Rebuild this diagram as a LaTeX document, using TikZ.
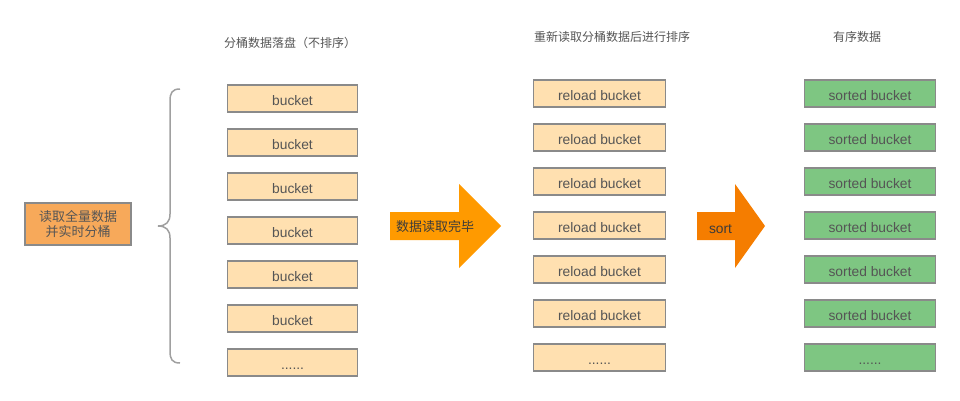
\documentclass[tikz,border=0pt]{standalone}
\usepackage{fontspec}
\setmainfont{Liberation Sans}
\newfontfamily\cjk{Noto Sans CJK SC}
\definecolor{bfill}{HTML}{FFE0B0}
\definecolor{gfill}{HTML}{7EC682}
\definecolor{ofill}{HTML}{F7A95A}
\definecolor{bord}{HTML}{8A8A8A}
\definecolor{txt}{HTML}{555555}
\definecolor{arr1}{HTML}{FF9A00}
\definecolor{arr2}{HTML}{F57D00}
\definecolor{brace}{HTML}{A0A0A0}
\begin{document}
\begin{tikzpicture}[x=1pt,y=-1pt,
  box/.style={draw=bord,line width=1.3pt,rectangle,minimum height=27pt,inner sep=0pt,text height=14pt,text depth=0pt,text=txt,font=\fontsize{13.8}{16}\selectfont},
  bkt/.style={box,fill=bfill,minimum width=130pt},
  rbkt/.style={box,fill=bfill,minimum width=132pt},
  sbkt/.style={box,fill=gfill,minimum width=131pt},
  ttl/.style={text=txt,font=\cjk\fontsize{12}{14}\selectfont,inner sep=0pt}]
\useasboundingbox (0,0) rectangle (960,400);
% titles
\node[ttl] (t1) at (290,43) {分桶数据落盘（不排序）};
\node[ttl] (t2) at (612,37) {重新读取分桶数据后进行排序};
\node[ttl] (t3) at (857,37) {有序数据};
% source
\node[draw=bord,line width=1.3pt,fill=ofill,minimum width=106pt,minimum height=42pt,inner sep=0pt,align=center,text=txt,font=\cjk\fontsize{13}{15.5}\selectfont] (src) at (78,224) {读取全量数据\\并实时分桶};
% brace
\coordinate (bt) at (180,89);
\coordinate (bm) at (158,226);
\coordinate (bb) at (180,363);
\draw[brace,line width=1.5pt] (bt) .. controls (172,89) and (170,93) .. (170,101) -- (170,214) .. controls (170,222) and (166,226) .. (bm) .. controls (166,226) and (170,230) .. (170,238) -- (170,351) .. controls (170,359) and (172,363) .. (bb);
% left buckets
\foreach \i/\y in {1/98.5,2/142.5,3/186.5,4/230.5,5/274.5,6/318.5}{
  \node[bkt] (b\i) at (292.5,\y) {bucket};
}
\node[bkt] (b7) at (292.5,362.5) {......};
% middle
\foreach \i/\y in {1/93.5,2/137.5,3/181.5,4/225.5,5/269.5,6/313.5}{
  \node[rbkt] (r\i) at (599.5,\y) {reload bucket};
}
\node[rbkt] (r7) at (599.5,357.5) {......};
% right
\foreach \i/\y in {1/93.5,2/137.5,3/181.5,4/225.5,5/269.5,6/313.5}{
  \node[sbkt] (s\i) at (870,\y) {sorted bucket};
}
\node[sbkt] (s7) at (870,357.5) {......};
% arrow 1
\fill[arr1] (390,212) -- (459,212) -- (459,184) -- (501,226) -- (459,268) -- (459,240) -- (390,240) -- cycle;
\node[anchor=west,inner sep=0pt,text=txt!70!black,font=\cjk\fontsize{13}{15}\selectfont] (a1) at (396,227) {数据读取完毕};
% arrow 2
\fill[arr2] (697,212) -- (735,212) -- (735,184) -- (765,226) -- (735,268) -- (735,240) -- (697,240) -- cycle;
\node[inner sep=0pt,text height=14pt,text depth=0pt,text=txt!70!black,font=\fontsize{13.8}{16}\selectfont] (a2) at (720.5,226) {sort};
\end{tikzpicture}
\end{document}
